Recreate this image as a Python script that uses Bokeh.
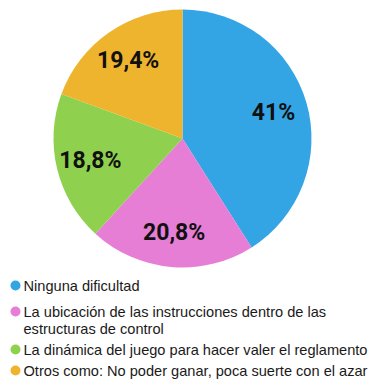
import math
from bokeh.plotting import figure
from bokeh.models import ColumnDataSource
from bokeh.core.properties import value
from bokeh.embed import file_html
from bokeh.resources import INLINE

categories = ["Ninguna dificultad",
              "La ubicación de las instrucciones dentro de las\nestructuras de control",
              "La dinámica del juego para hacer valer el reglamento",
              "Otros como: No poder ganar, poca suerte con el azar"]
percents = [41.0, 20.8, 18.8, 19.4]
labels = ["41%", "20,8%", "18,8%", "19,4%"]
colors = ["#33a4e4", "#e67ed5", "#8fd14f", "#efb42e"]

W, H = 372, 381
cx, cy, R = 182, H - 138, 129

total = sum(percents)
starts, ends, lx, ly = [], [], [], []
a = math.pi / 2
for v in percents:
    span = v / total * 2 * math.pi
    starts.append(a - span)
    ends.append(a)
    mid = a - span / 2
    lx.append(cx + 0.735 * R * math.cos(mid))
    ly.append(cy + 0.735 * R * math.sin(mid))
    a -= span

src = ColumnDataSource(dict(start=starts, end=ends, color=colors, lx=lx, ly=ly, label=labels))

p = figure(width=W, height=H, x_range=(0, W), y_range=(0, H), output_backend="svg",
           toolbar_location=None, min_border=0)
p.axis.visible = False
p.grid.visible = False
p.outline_line_color = None
p.background_fill_color = "white"

p.wedge(x=cx, y=cy, radius=R, start_angle="start", end_angle="end", color="color",
        line_color=None, source=src)
p.text(x="lx", y="ly", text="label", source=src, text_align="center", text_baseline="middle",
       text_font=value("Roboto"), text_font_style="bold", text_font_size="23px", text_color="#111111")

# legend
dot_y_page = [285, 311, 349, 370]
line_gap = 17
dot_x, txt_x = 15, 23
p.scatter(x=[dot_x] * 4, y=[H - v for v in dot_y_page], size=10, color=colors, line_color=None)
tx, ty, tt = [], [], []
for cat, yy in zip(categories, dot_y_page):
    for k, line in enumerate(cat.split("\n")):
        tx.append(txt_x)
        ty.append(H - (yy + k * line_gap))
        tt.append(line)
p.text(x=tx, y=ty, text=tt, text_align="left", text_baseline="middle",
       text_font=value("Liberation Sans"), text_font_size="14.6px", text_color="#1a1a1a")

open("out.html", "w").write(file_html(p, INLINE))
